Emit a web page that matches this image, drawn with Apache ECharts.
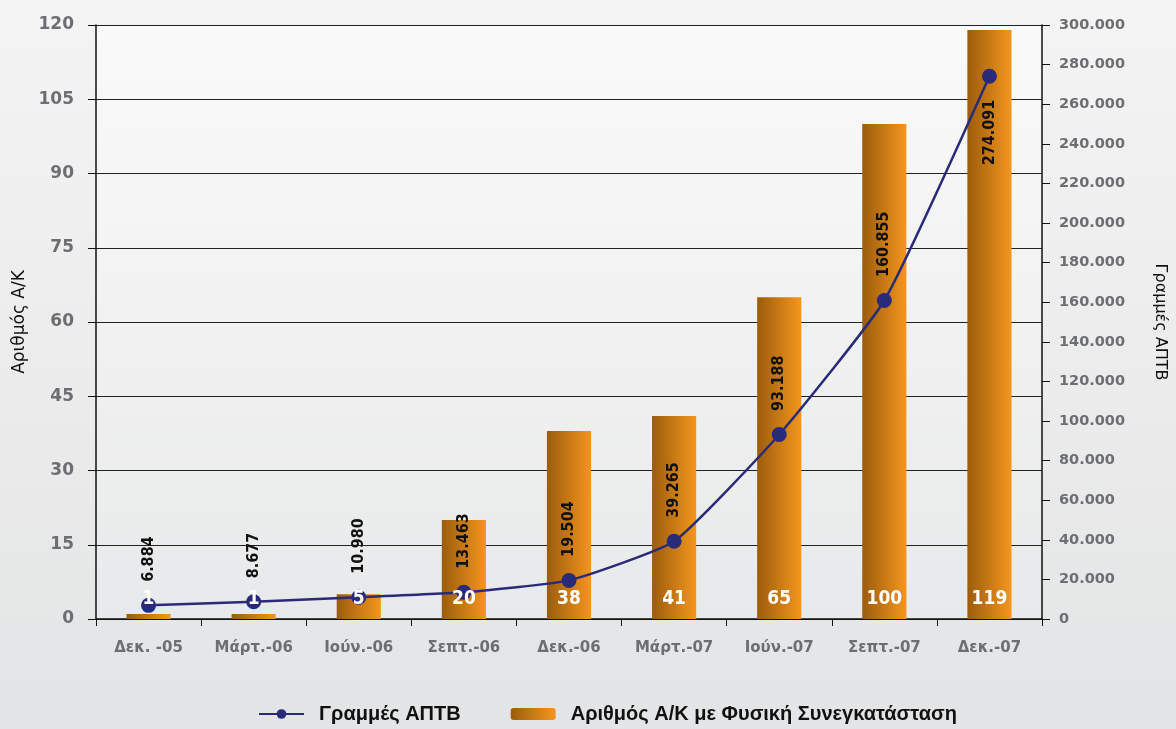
<!DOCTYPE html>
<html><head><meta charset="utf-8">
<script src="https://cdn.jsdelivr.net/npm/echarts@6/dist/echarts.min.js"></script>
<style>
html,body{margin:0;padding:0;width:1176px;height:729px;overflow:hidden;background:linear-gradient(#f4f4f4,#e3e4e5);}
#c{width:1176px;height:729px;}
</style></head><body><div id="c"></div>
<script>
const categories = ['Δεκ. -05','Μάρτ.-06','Ιούν.-06','Σεπτ.-06','Δεκ.-06','Μάρτ.-07','Ιούν.-07','Σεπτ.-07','Δεκ.-07'];
const barValues = [1,1,5,20,38,41,65,100,119];
const lineValues = [6884,8677,10980,13463,19504,39265,93188,160855,274091];
const barName = 'Αριθμός Α/Κ με Φυσική Συνεγκατάσταση';
const lineName = 'Γραμμές ΑΠΤΒ';
const leftAxisName = 'Αριθμός Α/Κ';
const rightAxisName = 'Γραμμές ΑΠΤΒ';

function fmt(v){ return String(v).replace(/\B(?=(\d{3})+(?!\d))/g,'.'); }

const chart = echarts.init(document.getElementById('c'), null, {renderer:'canvas'});
const barGrad = new echarts.graphic.LinearGradient(0,0,1,0,[{offset:0,color:'#9c5c0c'},{offset:1,color:'#f4961e'}]);
const axisLabelStyle = {color:'#6d6e71', fontWeight:'bold', fontFamily:'DejaVu Sans'};
const condensed = '"DejaVu Sans Condensed", "DejaVu Sans", sans-serif';

chart.setOption({
  backgroundColor:'transparent',
  animation:false,
  grid:{left:96,right:131,top:25,bottom:110,show:true,borderWidth:0,
    backgroundColor:new echarts.graphic.LinearGradient(0,0,0,1,[{offset:0,color:'#fafafa'},{offset:1,color:'#e8e9ea'}])},
  legend:{
    bottom:0, left:253, itemGap:50, itemWidth:45, itemHeight:12,
    data:[{name:lineName},{name:barName}],
    textStyle:{color:'#111',fontWeight:'bold',fontSize:20,fontFamily:'Liberation Sans',padding:[0,0,0,10]}
  },
  xAxis:{
    type:'category', data:categories,
    axisLine:{lineStyle:{color:'#111',width:1.5}},
    axisTick:{show:true,length:7,lineStyle:{color:'#111'}},
    axisLabel:Object.assign({fontSize:15,margin:22},axisLabelStyle)
  },
  yAxis:[{
    type:'value', min:0, max:120, interval:15, position:'left',
    name:leftAxisName, nameLocation:'middle', nameGap:68, nameRotate:90,
    nameTextStyle:{color:'#111',fontSize:17,fontFamily:'DejaVu Sans'},
    axisLine:{show:true,lineStyle:{color:'#111',width:1.5}},
    axisTick:{show:true,length:8,lineStyle:{color:'#111'}},
    splitLine:{show:true,lineStyle:{color:'#222',width:1}},
    axisLabel:Object.assign({fontSize:17,margin:22},axisLabelStyle)
  },{
    type:'value', min:0, max:300000, interval:20000, position:'right',
    name:rightAxisName, nameLocation:'middle', nameGap:110, nameRotate:-90,
    nameTextStyle:{color:'#111',fontSize:16,fontFamily:'DejaVu Sans'},
    axisLine:{show:true,lineStyle:{color:'#111',width:1.5}},
    axisTick:{show:true,length:8,lineStyle:{color:'#111'}},
    splitLine:{show:false},
    axisLabel:Object.assign({fontSize:14.5,margin:17,formatter:v=>fmt(v)},axisLabelStyle)
  }],
  series:[{
    name:barName, type:'bar', yAxisIndex:0, data:barValues, barWidth:'42%', z:1,
    itemStyle:{color:barGrad}
  },{
    name:lineName, type:'line', yAxisIndex:1, z:2, smooth:0.15,
    symbol:'circle', symbolSize:15,
    lineStyle:{color:'#2a2b78',width:2.5},
    itemStyle:{color:'#2a2b78'},
    data:lineValues.map((v,i)=>({value:v,label:i===lineValues.length-1?{position:'bottom',align:'right'}:{}})),
    label:{show:true,position:'top',rotate:90,align:'left',verticalAlign:'middle',distance:16,
      formatter:p=>fmt(p.value),color:'#111',fontWeight:'bold',fontSize:16,fontFamily:condensed}
  },{
    name:'labels', type:'bar', yAxisIndex:0, data:barValues, barWidth:'42%', barGap:'-100%', z:5, silent:true,
    itemStyle:{color:'rgba(0,0,0,0)'},
    label:{show:true,position:'insideBottom',distance:10,color:'#fff',fontWeight:'bold',fontSize:19,fontFamily:condensed}
  }]
});
</script></body></html>
